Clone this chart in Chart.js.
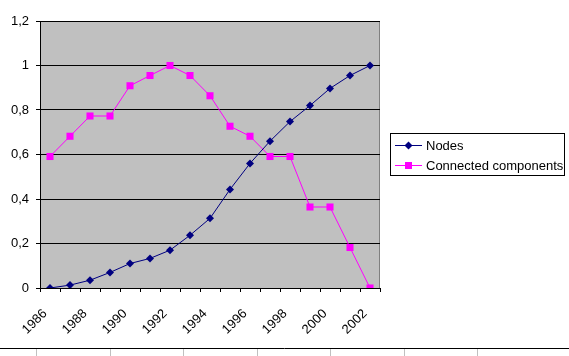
<!DOCTYPE html>
<html>
<head>
<meta charset="utf-8">
<script src="https://cdn.jsdelivr.net/npm/chart.js@4"></script>
<style>
html,body{margin:0;padding:0;background:#fff;}
#wrap{position:relative;width:569px;height:356px;}
canvas{display:block;}
</style>
</head>
<body>
<div id="wrap"><canvas id="c" width="569" height="356"></canvas></div>
<script>
const years = ['1986','1987','1988','1989','1990','1991','1992','1993','1994','1995','1996','1997','1998','1999','2000','2001','2002'];
const nodes = [0, 0.013, 0.035, 0.07, 0.11, 0.133, 0.17, 0.237, 0.313, 0.443, 0.56, 0.66, 0.748, 0.82, 0.897, 0.955, 1.0];
const components = [0.591, 0.682, 0.773, 0.773, 0.909, 0.955, 1.0, 0.955, 0.864, 0.727, 0.682, 0.591, 0.591, 0.364, 0.364, 0.182, 0];
const yTicks = [0, 0.2, 0.4, 0.6, 0.8, 1, 1.2];
const seriesNames = ['Nodes', 'Connected components'];

const FONT = 'Arial, "Liberation Sans", sans-serif';

const bgPlugin = {
  id: 'bg',
  beforeDraw(chart) {
    const {ctx, chartArea: a} = chart;
    ctx.save();
    ctx.fillStyle = '#C0C0C0';
    ctx.fillRect(a.left, a.top, a.right - a.left, a.bottom - a.top);
    ctx.strokeStyle = '#808080';
    ctx.lineWidth = 1;
    ctx.beginPath();
    ctx.moveTo(a.left, a.top + 0.5);
    ctx.lineTo(a.right - 0.5, a.top + 0.5);
    ctx.lineTo(a.right - 0.5, a.bottom);
    ctx.stroke();
    ctx.restore();
  },
  afterDraw(chart) {
    const ctx = chart.ctx;
    ctx.save();
    // legend box
    const lx = 390.5, ly = 133.5, lw = 174, lh = 42;
    ctx.fillStyle = '#fff';
    ctx.fillRect(lx, ly, lw, lh);
    ctx.strokeStyle = '#000';
    ctx.lineWidth = 1;
    ctx.strokeRect(lx, ly, lw, lh);
    const rows = [145, 165];
    chart.data.datasets.forEach((ds, i) => {
      const y = rows[i] + 0.5;
      ctx.strokeStyle = ds.borderColor;
      ctx.lineWidth = 1;
      ctx.beginPath();
      ctx.moveTo(395, y);
      ctx.lineTo(422, y);
      ctx.stroke();
      ctx.fillStyle = ds.backgroundColor;
      ctx.beginPath();
      if (ds.pointStyle === 'rect') {
        ctx.rect(405, rows[i] - 3, 7, 7);
      } else {
        ctx.moveTo(408.5, y - 4);
        ctx.lineTo(412.5, y);
        ctx.lineTo(408.5, y + 4);
        ctx.lineTo(404.5, y);
        ctx.closePath();
      }
      ctx.fill();
      ctx.fillStyle = '#000';
      ctx.font = '13px ' + FONT;
      ctx.textBaseline = 'middle';
      ctx.textAlign = 'left';
      ctx.fillText(ds.label, 426, rows[i] + 1);
    });
    // bottom sheet line
    ctx.strokeStyle = '#000';
    ctx.beginPath();
    ctx.moveTo(0, 348.5);
    ctx.lineTo(569, 348.5);
    ctx.stroke();
    ctx.strokeStyle = '#C0C0C0';
    [36, 110, 183, 257, 330, 404, 477].forEach(x => {
      ctx.beginPath();
      ctx.moveTo(x + 0.5, 349);
      ctx.lineTo(x + 0.5, 356);
      ctx.stroke();
    });
    ctx.restore();
  }
};

new Chart(document.getElementById('c'), {
  type: 'line',
  data: {
    labels: years,
    datasets: [
      {
        label: seriesNames[0],
        data: nodes,
        borderColor: '#000080',
        backgroundColor: '#000080',
        borderWidth: 1,
        pointStyle: 'rectRot',
        pointRadius: 4,
        pointBorderWidth: 0,
        tension: 0
      },
      {
        label: seriesNames[1],
        data: components,
        borderColor: '#FF00FF',
        backgroundColor: '#FF00FF',
        borderWidth: 1,
        pointStyle: 'rect',
        pointRadius: 5,
        pointBorderWidth: 0,
        tension: 0
      }
    ]
  },
  options: {
    responsive: false,
    animation: false,
    devicePixelRatio: 1,
    layout: { padding: { left: 0, top: 21, right: 189, bottom: 0 } },
    plugins: { legend: { display: false }, tooltip: { enabled: false } },
    scales: {
      x: {
        offset: true,
        grid: { offset: true, drawOnChartArea: false, drawTicks: true, tickLength: 4, color: '#000' },
        border: { color: '#000', width: 1 },
        ticks: {
          autoSkip: false,
          maxRotation: 45,
          minRotation: 45,
          padding: 14,
          labelOffset: -5,
          color: '#000',
          font: { family: FONT, size: 13 },
          callback: function(v, i) { return i % 2 === 0 ? this.getLabelForValue(v) : ''; }
        },
        afterFit(s) { s.height = 68; }
      },
      y: {
        min: 0,
        max: 1.2,
        afterBuildTicks(s) { s.ticks = yTicks.map(v => ({ value: v })); },
        grid: { color: '#000', tickLength: 4, drawTicks: true },
        border: { color: '#000', width: 1 },
        ticks: {
          padding: 7,
          color: '#000',
          font: { family: FONT, size: 13 },
          callback: v => String(Math.round(v * 10) / 10).replace('.', ',')
        },
        afterFit(s) { s.width = 40; }
      }
    }
  },
  plugins: [bgPlugin]
});
</script>
</body>
</html>
